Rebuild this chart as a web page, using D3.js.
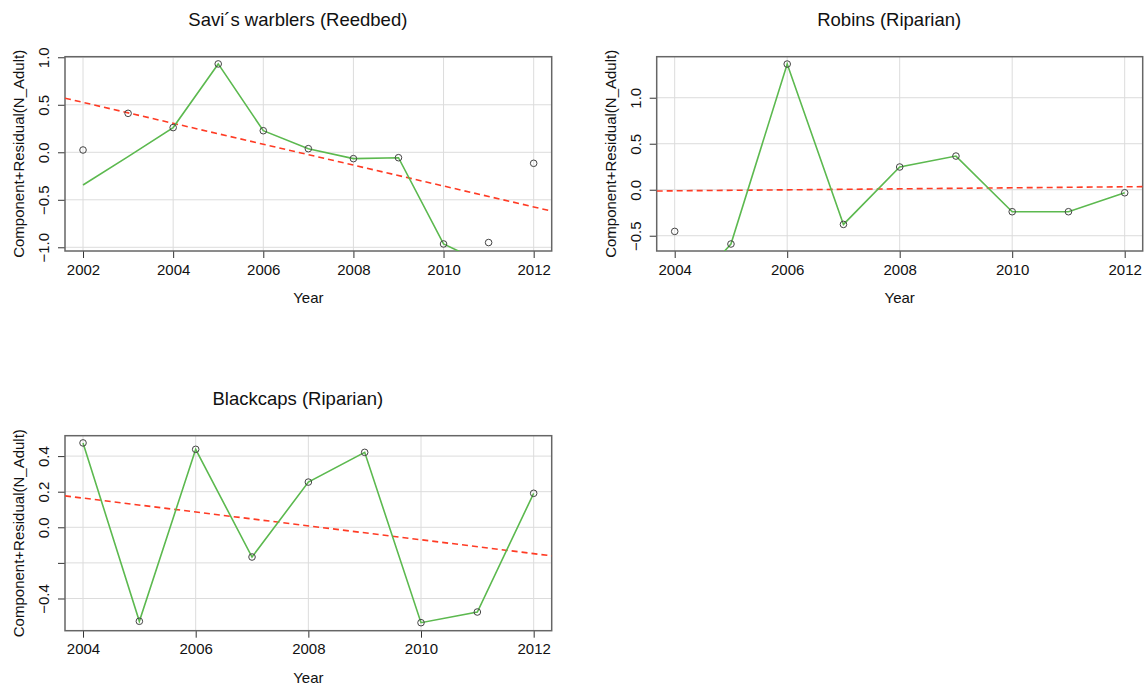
<!DOCTYPE html>
<html>
<head>
<meta charset="utf-8">
<script src="https://cdn.jsdelivr.net/npm/d3@7"></script>
<style>
  html, body { margin: 0; padding: 0; background: #fff; }
  svg { display: block; font-family: "Liberation Sans", Arial, Helvetica, sans-serif; }
</style>
</head>
<body>
<svg id="chart" width="1145" height="688"></svg>
<script>
// ---------- data ----------
const saviYears = [2002, 2003, 2004, 2005, 2006, 2007, 2008, 2009, 2010, 2011, 2012];
const saviPoints = [0.024, 0.41, 0.26, 0.93, 0.227, 0.038, -0.067, -0.057, -0.965, -0.95, -0.116];
const saviSmooth = [-0.344, -0.046, 0.26, 0.93, 0.227, 0.038, -0.067, -0.057, -0.965, -1.19, -1.3];
const saviTrend = [0.525, -0.575];          // linear component at first / last year
const saviXTicks = [2002, 2004, 2006, 2008, 2010, 2012];
const saviYTicks = [-1.0, -0.5, 0.0, 0.5, 1.0];
const saviYLabels = ["\u22121.0", "\u22120.5", "0.0", "0.5", "1.0"];

const robinYears = [2004, 2005, 2006, 2007, 2008, 2009, 2010, 2011, 2012];
const robinPoints = [-0.453, -0.59, 1.366, -0.377, 0.247, 0.366, -0.239, -0.239, -0.033];
const robinSmooth = [-1.27, -0.59, 1.366, -0.377, 0.247, 0.366, -0.239, -0.239, -0.033];
const robinTrend = [-0.012, 0.032];
const robinXTicks = [2004, 2006, 2008, 2010, 2012];
const robinYTicks = [-0.5, 0.0, 0.5, 1.0];
const robinYLabels = ["\u22120.5", "0.0", "0.5", "1.0"];

const blackcapYears = [2004, 2005, 2006, 2007, 2008, 2009, 2010, 2011, 2012];
const blackcapPoints = [0.474, -0.528, 0.438, -0.167, 0.254, 0.421, -0.536, -0.476, 0.191];
const blackcapSmooth = [0.474, -0.528, 0.438, -0.167, 0.254, 0.421, -0.536, -0.476, 0.191];
const blackcapTrend = [0.164, -0.148];
const blackcapXTicks = [2004, 2006, 2008, 2010, 2012];
const blackcapYTicks = [-0.4, -0.2, 0.0, 0.2, 0.4];
const blackcapYLabels = ["\u22120.4", "", "0.0", "0.2", "0.4"];

const titles = ["Savi\u00b4s warblers (Reedbed)", "Robins (Riparian)", "Blackcaps (Riparian)"];
const xLabel = "Year";
const yLabel = "Component+Residual(N_Adult)";

// ---------- layout ----------
const panels = [
  { title: titles[0], years: saviYears, points: saviPoints, smooth: saviSmooth, trend: saviTrend,
    xTicks: saviXTicks, yTicks: saviYTicks, yLabels: saviYLabels,
    box: { l: 65, r: 551.7, t: 56.7, b: 251 }, xDom: [2001.6, 2012.4], yDom: [-1.039, 1.006], axisX: 18.5 },
  { title: titles[1], years: robinYears, points: robinPoints, smooth: robinSmooth, trend: robinTrend,
    xTicks: robinXTicks, yTicks: robinYTicks, yLabels: robinYLabels,
    box: { l: 656.7, r: 1142.7, t: 56.7, b: 251 }, xDom: [2003.68, 2012.32], yDom: [-0.666, 1.446], axisX: 610 },
  { title: titles[2], years: blackcapYears, points: blackcapPoints, smooth: blackcapSmooth, trend: blackcapTrend,
    xTicks: blackcapXTicks, yTicks: blackcapYTicks, yLabels: blackcapYLabels,
    box: { l: 65, r: 551.7, t: 435.7, b: 630.7 }, xDom: [2003.68, 2012.32], yDom: [-0.581, 0.5146], axisX: 18.5 }
];

const svg = d3.select("#chart");
const defs = svg.append("defs");

panels.forEach((p, i) => {
  const B = p.box;
  const x = d3.scaleLinear().domain(p.xDom).range([B.l, B.r]);
  const y = d3.scaleLinear().domain(p.yDom).range([B.b, B.t]);
  const g = svg.append("g");

  defs.append("clipPath").attr("id", "clip" + i)
    .append("rect").attr("x", B.l).attr("y", B.t).attr("width", B.r - B.l).attr("height", B.b - B.t);

  // grid
  g.append("g").selectAll("line.vx").data(p.xTicks).join("line")
    .attr("x1", d => x(d)).attr("x2", d => x(d)).attr("y1", B.t).attr("y2", B.b)
    .attr("stroke", "#dcdcdc").attr("stroke-width", 1);
  g.append("g").selectAll("line.hy").data(p.yTicks).join("line")
    .attr("x1", B.l).attr("x2", B.r).attr("y1", d => y(d)).attr("y2", d => y(d))
    .attr("stroke", "#dcdcdc").attr("stroke-width", 1);

  // axes
  const xAxis = d3.axisBottom(x).tickValues(p.xTicks).tickFormat(d3.format("d")).tickSize(7).tickPadding(6).tickSizeOuter(0);
  const gx = g.append("g").attr("transform", `translate(0,${B.b})`).call(xAxis);
  gx.select(".domain").remove();
  gx.selectAll(".tick line").attr("stroke", "#333");
  gx.selectAll(".tick text").attr("font-size", 15).attr("fill", "#111").attr("font-family", "Liberation Sans, Arial, sans-serif");

  const yAxis = d3.axisLeft(y).tickValues(p.yTicks).tickFormat((d, k) => p.yLabels[k]).tickSize(7).tickSizeOuter(0);
  const gy = g.append("g").attr("transform", `translate(${B.l},0)`).call(yAxis);
  gy.select(".domain").remove();
  gy.selectAll(".tick line").attr("stroke", "#333");
  gy.selectAll(".tick text")
    .attr("font-size", 15).attr("fill", "#111").attr("font-family", "Liberation Sans, Arial, sans-serif")
    .attr("x", null).attr("dy", null)
    .attr("text-anchor", "middle")
    .attr("transform", "translate(-21.5,0) rotate(-90)")
    .attr("dominant-baseline", "central");

  // box
  g.append("rect").attr("x", B.l).attr("y", B.t).attr("width", B.r - B.l).attr("height", B.b - B.t)
    .attr("fill", "none").attr("stroke", "#666").attr("stroke-width", 1.5);

  const clipped = g.append("g").attr("clip-path", `url(#clip${i})`);

  // trend (linear component) across full x range
  const y0 = p.years[0], y1 = p.years[p.years.length - 1];
  const slope = (p.trend[1] - p.trend[0]) / (y1 - y0);
  const trendAt = t => p.trend[0] + slope * (t - y0);
  clipped.append("line")
    .attr("x1", x(p.xDom[0])).attr("y1", y(trendAt(p.xDom[0])))
    .attr("x2", x(p.xDom[1])).attr("y2", y(trendAt(p.xDom[1])))
    .attr("stroke", "#ff3b24").attr("stroke-width", 1.6).attr("stroke-dasharray", "6,4");

  // smoother
  const line = d3.line().x((d, k) => x(p.years[k])).y(d => y(d));
  clipped.append("path").datum(p.smooth).attr("d", line)
    .attr("fill", "none").attr("stroke", "#5cb94f").attr("stroke-width", 1.6);

  // points
  clipped.selectAll("circle").data(p.points).join("circle")
    .attr("cx", (d, k) => x(p.years[k])).attr("cy", d => y(d)).attr("r", 3.3)
    .attr("fill", "none").attr("stroke", "#444").attr("stroke-width", 1);

  // labels
  const cx = (B.l + B.r) / 2;
  svg.append("text").attr("x", cx - 10.5).attr("y", B.t - 31).attr("text-anchor", "middle")
    .attr("font-size", 18.5).attr("fill", "#111").text(p.title);
  svg.append("text").attr("x", cx).attr("y", B.b + 52).attr("text-anchor", "middle")
    .attr("font-size", 15).attr("fill", "#111").text(xLabel);
  svg.append("text").attr("transform", `translate(${p.axisX},${(B.t + B.b) / 2}) rotate(-90)`)
    .attr("text-anchor", "middle").attr("dominant-baseline", "central")
    .attr("font-size", 15).attr("fill", "#111").text(yLabel);
});
</script>
</body>
</html>
